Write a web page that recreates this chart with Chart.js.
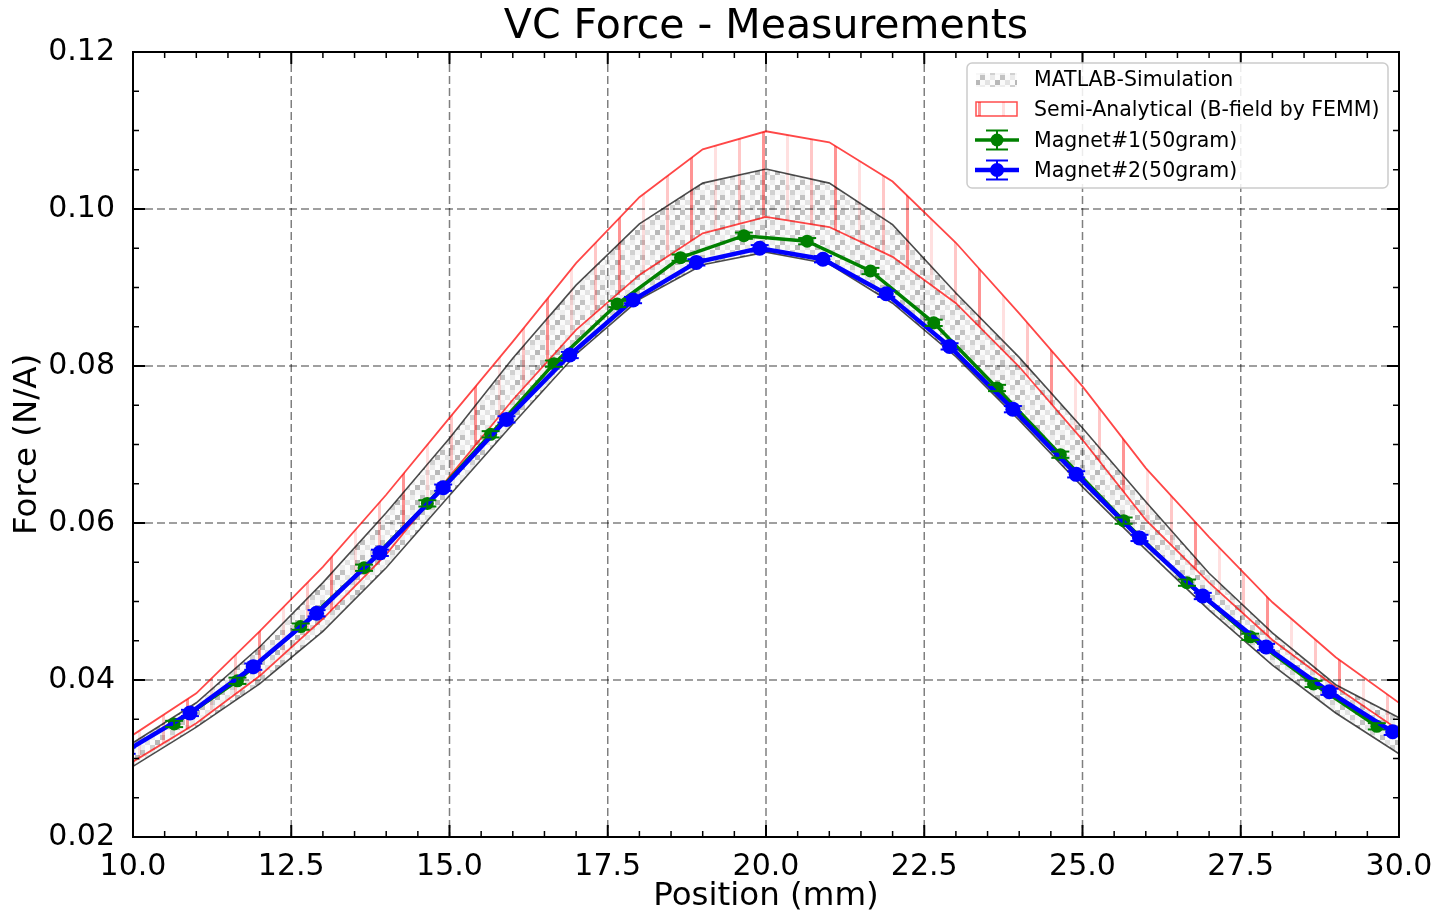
<!DOCTYPE html>
<html>
<head>
<meta charset="utf-8">
<script src="https://cdn.jsdelivr.net/npm/chart.js@4.4.0/dist/chart.umd.min.js"></script>
<style>
html, body { margin: 0; padding: 0; background: #fff; }
</style>
</head>
<body>
<canvas id="chart" width="1441" height="915"></canvas>
<script>
// VC Force - Measurements

var posSim = [10, 11, 12, 13, 14, 15, 16, 17, 18, 19, 20, 21, 22, 23, 24, 25, 26, 27, 28, 29, 30];
var simUpper = [0.0320, 0.0371, 0.0442, 0.0524, 0.0613, 0.0708, 0.0810, 0.0903, 0.0981, 0.1033, 0.1051,
                0.1033, 0.0980, 0.0893, 0.0811, 0.0721, 0.0627, 0.0536, 0.0460, 0.0394, 0.0352];
var simLower = [0.0290, 0.0340, 0.0395, 0.0462, 0.0543, 0.0635, 0.0726, 0.0815, 0.0885, 0.0929, 0.0945,
                0.0930, 0.0880, 0.0812, 0.0731, 0.0646, 0.0566, 0.0489, 0.0419, 0.0358, 0.0306];
var semiUpper = [0.0330, 0.0383, 0.0462, 0.0544, 0.0636, 0.0734, 0.0831, 0.0931, 0.1015, 0.1076, 0.1099,
                 0.1085, 0.1035, 0.0957, 0.0867, 0.0774, 0.0670, 0.0582, 0.0499, 0.0429, 0.0371];
var semiLower = [0.0296, 0.0345, 0.0405, 0.0478, 0.0560, 0.0659, 0.0757, 0.0846, 0.0916, 0.0969, 0.0990,
                 0.0977, 0.0939, 0.0880, 0.0799, 0.0706, 0.0604, 0.0524, 0.0451, 0.0391, 0.0336];

var posM1 = [10.65, 11.65, 12.65, 13.65, 14.65, 15.65, 16.65, 17.65, 18.65, 19.65,
             20.65, 21.65, 22.65, 23.65, 24.65, 25.65, 26.65, 27.65, 28.65, 29.65];
var forceM1 = [0.0344, 0.0399, 0.0468, 0.0543, 0.0625, 0.0713, 0.0803, 0.0879, 0.0938, 0.0966,
               0.0959, 0.0921, 0.0855, 0.0772, 0.0687, 0.0603, 0.0524, 0.0455, 0.0395, 0.0341];
var errM1 = [0.0004, 0.0004, 0.0004, 0.0004, 0.0004, 0.0004, 0.0004, 0.0004, 0.0004, 0.0004,
             0.0004, 0.0004, 0.0004, 0.0004, 0.0004, 0.0004, 0.0004, 0.0004, 0.0004, 0.0004];

var posM2 = [9.9, 10.9, 11.9, 12.9, 13.9, 14.9, 15.9, 16.9, 17.9, 18.9, 19.9,
             20.9, 21.9, 22.9, 23.9, 24.9, 25.9, 26.9, 27.9, 28.9, 29.9];
var forceM2 = [0.0310, 0.0358, 0.0417, 0.0485, 0.0562, 0.0645, 0.0732, 0.0814, 0.0884, 0.0932, 0.0950,
               0.0936, 0.0892, 0.0825, 0.0745, 0.0662, 0.0581, 0.0507, 0.0442, 0.0385, 0.0334];
var errM2 = [0.0004, 0.0004, 0.0004, 0.0004, 0.0004, 0.0004, 0.0004, 0.0004, 0.0004, 0.0004, 0.0004,
             0.0004, 0.0004, 0.0004, 0.0004, 0.0004, 0.0004, 0.0004, 0.0004, 0.0004, 0.0004];

var xTicks = [10, 12.5, 15, 17.5, 20, 22.5, 25, 27.5, 30];
var yTicks = [0.02, 0.04, 0.06, 0.08, 0.10, 0.12];

var FONT = '"DejaVu Sans", sans-serif';

function pts(xs, ys) {
    return xs.map(function (x, i) { return { x: x, y: ys[i] }; });
}

// hatch patterns (rasterised look of the matplotlib hatches)
function grayHatch() {
    var c = document.createElement('canvas');
    c.width = 20; c.height = 15;
    var g = c.getContext('2d');
    var shades = [
        [0.24, 0.02, 0.08, 0.01],
        [0.02, 0.11, 0.01, 0.28],
        [0.07, 0.01, 0.18, 0.03]
    ];
    for (var r = 0; r < 3; r++) {
        for (var k = 0; k < 4; k++) {
            g.fillStyle = 'rgba(0,0,0,' + shades[r][k] + ')';
            g.fillRect(k * 5, r * 5, 5, 5);
        }
    }
    return g.createPattern(c, 'repeat');
}
function redHatch() {
    var c = document.createElement('canvas');
    c.width = 72; c.height = 4;
    var g = c.getContext('2d');
    g.fillStyle = 'rgba(255,0,0,0.22)';
    g.fillRect(18, 0, 3, 4);
    g.fillStyle = 'rgba(255,0,0,0.42)';
    g.fillRect(42, 0, 3, 4);
    g.fillStyle = 'rgba(255,0,0,0.12)';
    g.fillRect(66, 0, 3, 4);
    return g.createPattern(c, 'repeat');
}
var grayPat = grayHatch();
var redPat = redHatch();

function line(ctx, x1, y1, x2, y2) {
    ctx.beginPath(); ctx.moveTo(x1, y1); ctx.lineTo(x2, y2); ctx.stroke();
}

function errorBars(ctx, chart, xs, ys, es, color) {
    var sx = chart.scales.x, sy = chart.scales.y;
    ctx.strokeStyle = color;
    ctx.lineWidth = 2;
    for (var i = 0; i < xs.length; i++) {
        var px = sx.getPixelForValue(xs[i]);
        var pt = sy.getPixelForValue(ys[i] + es[i]);
        var pb = sy.getPixelForValue(ys[i] - es[i]);
        line(ctx, px, pt, px, pb);
        line(ctx, px - 9, pt, px + 9, pt);
        line(ctx, px - 9, pb, px + 9, pb);
    }
}

function legendLine(ctx, y, color, lw, r) {
    ctx.strokeStyle = color; ctx.fillStyle = color;
    ctx.lineWidth = lw;
    line(ctx, 975, y, 1019, y);
    ctx.lineWidth = 2;
    line(ctx, 997, y - 9.5, 997, y + 9.5);
    line(ctx, 986, y - 9.5, 1008, y - 9.5);
    line(ctx, 986, y + 9.5, 1008, y + 9.5);
    ctx.beginPath(); ctx.arc(997, y, r, 0, Math.PI * 2); ctx.fill();
}

var decor = {
    id: 'decor',
    beforeDatasetsDraw: function (chart) {
        var ctx = chart.ctx, a = chart.chartArea;
        var sx = chart.scales.x, sy = chart.scales.y;
        ctx.save();
        ctx.strokeStyle = 'rgba(0,0,0,0.5)';
        ctx.lineWidth = 1.5;
        ctx.setLineDash([8, 4]);
        xTicks.forEach(function (v) {
            var p = sx.getPixelForValue(v);
            line(ctx, p, a.top, p, a.bottom);
        });
        yTicks.forEach(function (v) {
            var p = sy.getPixelForValue(v);
            line(ctx, a.left, p, a.right, p);
        });
        ctx.restore();
    },
    afterDatasetsDraw: function (chart) {
        var ctx = chart.ctx, a = chart.chartArea;
        var sx = chart.scales.x, sy = chart.scales.y;
        ctx.save();
        ctx.beginPath();
        ctx.rect(a.left, a.top, a.right - a.left, a.bottom - a.top);
        ctx.clip();
        errorBars(ctx, chart, posM1, forceM1, errM1, '#008000');
        errorBars(ctx, chart, posM2, forceM2, errM2, '#0000ff');
        ctx.restore();

        ctx.save();
        // frame
        ctx.strokeStyle = '#000';
        ctx.lineWidth = 2;
        ctx.strokeRect(a.left, a.top, a.right - a.left, a.bottom - a.top);
        // inward ticks, all four sides
        var v, p, major;
        for (v = 10; v <= 30.001; v += 0.5) {
            p = sx.getPixelForValue(v);
            major = Math.abs(v / 2.5 - Math.round(v / 2.5)) < 1e-6;
            var tl = major ? 12 : 6;
            ctx.lineWidth = major ? 2 : 1.5;
            line(ctx, p, a.bottom, p, a.bottom - tl);
            line(ctx, p, a.top, p, a.top + tl);
        }
        for (var k = 0; k <= 20; k++) {
            v = 0.02 + k * 0.005;
            p = sy.getPixelForValue(v);
            major = k % 4 === 0;
            var tl2 = major ? 12 : 6;
            ctx.lineWidth = major ? 2 : 1.5;
            line(ctx, a.left, p, a.left + tl2, p);
            line(ctx, a.right, p, a.right - tl2, p);
        }
        // titles
        ctx.fillStyle = '#000';
        ctx.textAlign = 'center';
        ctx.textBaseline = 'middle';
        ctx.font = '41px ' + FONT;
        ctx.fillText('VC Force - Measurements', (a.left + a.right) / 2, 27);
        ctx.font = '32.5px ' + FONT;
        ctx.fillText('Position (mm)', (a.left + a.right) / 2, 897);
        ctx.save();
        ctx.translate(28, (a.top + a.bottom) / 2);
        ctx.rotate(-Math.PI / 2);
        ctx.fillText('Force (N/A)', 0, 0);
        ctx.restore();

        // legend
        var lx = 967, ly = 63, lw = 421, lh = 125;
        ctx.beginPath();
        ctx.roundRect(lx, ly, lw, lh, 5);
        ctx.fillStyle = 'rgba(255,255,255,0.85)';
        ctx.fill();
        ctx.strokeStyle = '#cccccc';
        ctx.lineWidth = 1.5;
        ctx.stroke();

        ctx.fillStyle = grayPat;
        ctx.fillRect(976, 73, 41, 14);
        ctx.fillStyle = redPat;
        ctx.fillRect(976, 102, 41, 14);
        ctx.strokeStyle = 'rgba(255,0,0,0.7)';
        ctx.lineWidth = 1.5;
        ctx.strokeRect(976, 102, 41, 14);
        legendLine(ctx, 140, '#008000', 3.5, 6.5);
        legendLine(ctx, 170, '#0000ff', 4.5, 7);

        ctx.fillStyle = '#000';
        ctx.textAlign = 'left';
        ctx.font = '20.5px ' + FONT;
        ctx.fillText('MATLAB-Simulation', 1034, 81);
        ctx.fillText('Semi-Analytical (B-field by FEMM)', 1034, 111);
        ctx.fillText('Magnet#1(50gram)', 1034, 142);
        ctx.fillText('Magnet#2(50gram)', 1034, 172);
        ctx.restore();
    }
};

var ctx = document.getElementById('chart').getContext('2d');
var vcChart = new Chart(ctx, {
    type: 'line',
    data: {
        datasets: [{
            label: 'Magnet#2(50gram)',
            data: pts(posM2, forceM2),
            borderColor: '#0000ff',
            backgroundColor: '#0000ff',
            borderWidth: 4.5,
            pointRadius: 7.5,
            pointBorderWidth: 0,
            fill: false,
            clip: 0,
            order: 0
        }, {
            label: 'Magnet#1(50gram)',
            data: pts(posM1, forceM1),
            borderColor: '#008000',
            backgroundColor: '#008000',
            borderWidth: 3.5,
            pointRadius: 6.5,
            pointBorderWidth: 0,
            fill: false,
            clip: 0,
            order: 1
        }, {
            label: 'Semi-Analytical upper',
            data: pts(posSim, semiUpper),
            borderColor: 'rgba(255,0,0,0.72)',
            backgroundColor: redPat,
            borderWidth: 1.8,
            pointRadius: 0,
            fill: '+1',
            order: 2
        }, {
            label: 'Semi-Analytical lower',
            data: pts(posSim, semiLower),
            borderColor: 'rgba(255,0,0,0.72)',
            borderWidth: 1.8,
            pointRadius: 0,
            fill: false,
            order: 2
        }, {
            label: 'MATLAB upper',
            data: pts(posSim, simUpper),
            borderColor: 'rgba(0,0,0,0.7)',
            backgroundColor: grayPat,
            borderWidth: 1.6,
            pointRadius: 0,
            fill: '+1',
            order: 3
        }, {
            label: 'MATLAB lower',
            data: pts(posSim, simLower),
            borderColor: 'rgba(0,0,0,0.7)',
            borderWidth: 1.6,
            pointRadius: 0,
            fill: false,
            order: 3
        }]
    },
    options: {
        responsive: false,
        animation: false,
        devicePixelRatio: 1,
        events: [],
        layout: { padding: { left: 0, top: 52, right: 42, bottom: 0 } },
        elements: { line: { tension: 0 } },
        plugins: {
            legend: { display: false },
            title: { display: false },
            tooltip: { enabled: false },
            filler: { drawTime: 'beforeDatasetsDraw' }
        },
        scales: {
            x: {
                type: 'linear',
                min: 10,
                max: 30,
                grid: { display: false },
                border: { display: false },
                ticks: {
                    stepSize: 2.5,
                    autoSkip: false,
                    maxRotation: 0,
                    padding: 4,
                    color: '#000',
                    font: { family: FONT, size: 30 },
                    callback: function (v) { return v.toFixed(1); }
                },
                afterFit: function (s) { s.height = 78; s.paddingLeft = 0; s.paddingRight = 0; }
            },
            y: {
                min: 0.02,
                max: 0.12,
                grid: { display: false },
                border: { display: false },
                ticks: {
                    stepSize: 0.02,
                    padding: 10,
                    color: '#000',
                    font: { family: FONT, size: 30 },
                    callback: function (v) { return v.toFixed(2); }
                },
                afterFit: function (s) { s.width = 133; s.paddingTop = 0; s.paddingBottom = 0; }
            }
        }
    },
    plugins: [decor]
});
</script>
</body>
</html>
